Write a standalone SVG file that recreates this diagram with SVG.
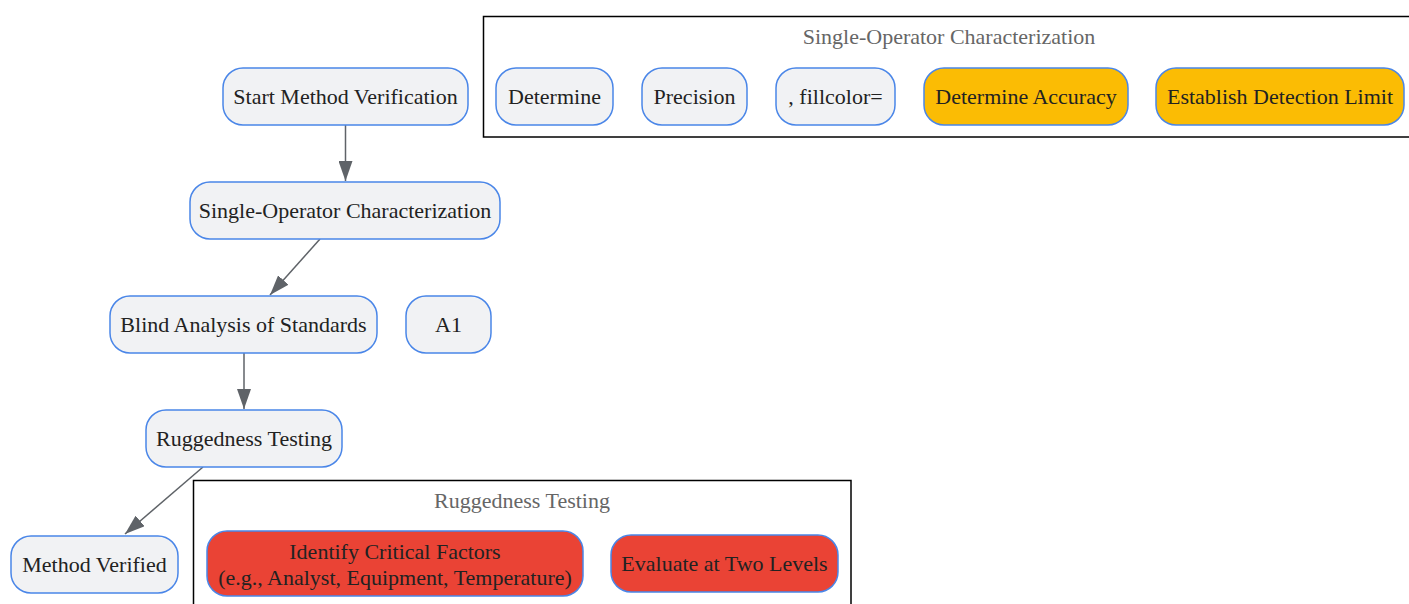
<svg xmlns="http://www.w3.org/2000/svg" width="1409" height="604" viewBox="0 0 1409 604">
<style>
.cl{fill:#ffffff;stroke:#000000;stroke-width:1.5}
.ct{font-family:"Liberation Serif",serif;font-size:22px;fill:#666666;text-anchor:middle}
.n{fill:#f1f2f4;stroke:#4a86e8;stroke-width:1.5}
.o{fill:#fbbc04;stroke:#4a86e8;stroke-width:1.5}
.r{fill:#ea4335;stroke:#4a86e8;stroke-width:1.5}
.t{font-family:"Liberation Serif",serif;font-size:22px;fill:#222222;text-anchor:middle;dominant-baseline:central}
.e{fill:none;stroke:#5f6368;stroke-width:1.5}
</style>
<defs>
<marker id="ah2" viewBox="0 0 20 14" refX="20" refY="7" markerWidth="20" markerHeight="14" markerUnits="userSpaceOnUse" orient="auto"><path d="M0,0 L20,7 L0,14 z" fill="#5f6368"/></marker>
</defs>
<g id="cluster-soc">
<rect class="cl" x="483.5" y="16.5" width="940" height="120.5"/>
<text class="ct" x="949" y="44">Single-Operator Characterization</text>
</g>
<g id="cluster-rug">
<rect class="cl" x="193.5" y="480.5" width="657.5" height="140"/>
<text class="ct" x="522" y="508">Ruggedness Testing</text>
</g>
<g id="connectors">
<path class="e" d="M345.5,125 L345.5,181" marker-end="url(#ah2)"/>
<path class="e" d="M320,239 L270,295" marker-end="url(#ah2)"/>
<path class="e" d="M244,353 L244,409" marker-end="url(#ah2)"/>
<path class="e" d="M203,467 L125,534" marker-end="url(#ah2)"/>
</g>
<g id="start"><rect class="n" x="223" y="68" width="245" height="57" rx="20"/><text class="t" x="345.5" y="96">Start Method Verification</text></g>
<g id="soc"><rect class="n" x="190" y="182" width="310" height="57" rx="20"/><text class="t" x="345" y="210">Single-Operator Characterization</text></g>
<g id="blind"><rect class="n" x="110" y="296" width="267" height="57" rx="20"/><text class="t" x="243.5" y="324">Blind Analysis of Standards</text></g>
<g id="a1"><rect class="n" x="406" y="296" width="85" height="57" rx="20"/><text class="t" x="448.5" y="324">A1</text></g>
<g id="rugged"><rect class="n" x="146" y="410" width="196" height="57" rx="20"/><text class="t" x="244" y="438">Ruggedness Testing</text></g>
<g id="verified"><rect class="n" x="11" y="536" width="167" height="57" rx="20"/><text class="t" x="94.5" y="564">Method Verified</text></g>
<g id="determine"><rect class="n" x="496" y="68" width="117" height="57" rx="20"/><text class="t" x="554.5" y="96">Determine</text></g>
<g id="precision"><rect class="n" x="642" y="68" width="105" height="57" rx="20"/><text class="t" x="694.5" y="96">Precision</text></g>
<g id="fillcolor"><rect class="n" x="776" y="68" width="119" height="57" rx="20"/><text class="t" x="835.5" y="96">, fillcolor=</text></g>
<g id="accuracy"><rect class="o" x="924" y="68" width="204" height="57" rx="20"/><text class="t" x="1026" y="96">Determine Accuracy</text></g>
<g id="detection"><rect class="o" x="1156" y="68" width="248" height="57" rx="20"/><text class="t" x="1280" y="96">Establish Detection Limit</text></g>
<g id="factors"><rect class="r" x="207" y="531" width="376" height="65" rx="20"/><text class="t" x="395" y="551">Identify Critical Factors</text><text class="t" x="395" y="577">(e.g., Analyst, Equipment, Temperature)</text></g>
<g id="levels"><rect class="r" x="611" y="535" width="227" height="57" rx="20"/><text class="t" x="724.5" y="563">Evaluate at Two Levels</text></g>
</svg>
